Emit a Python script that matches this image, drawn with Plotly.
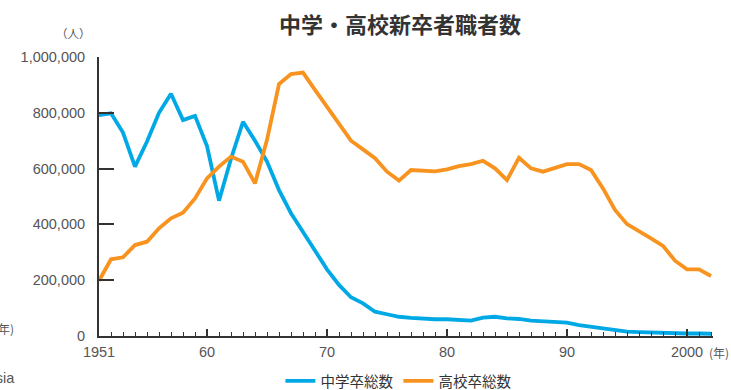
import plotly.graph_objects as go

years = list(range(1951, 2003))
junior_high = [792000, 798000, 729000, 607000, 697000, 800000, 868000, 774000, 789000, 681000,
               485000, 635000, 768000, 700000, 625000, 523000, 440000, 374000, 302000, 239000,
               183000, 139000, 117000, 87000, 78000, 69000, 65000, 62000, 60000, 60000,
               57000, 55000, 66000, 69000, 63000, 61000, 55000, 52000, 51000, 48000,
               39000, 33000, 27000, 21000, 16000, 14000, 12000, 11000, 10000, 9000,
               9000, 8000]
high_school = [198000, 275000, 282000, 326000, 338000, 386000, 422000, 442000, 493000, 565000,
               607000, 643000, 625000, 547000, 703000, 903000, 939000, 944000, 882000, 822000,
               760000, 700000, 669000, 637000, 589000, 557000, 595000, 593000, 590000, 597000,
               609000, 616000, 628000, 601000, 559000, 639000, 601000, 589000, 601000, 616000,
               616000, 595000, 529000, 452000, 401000, 377000, 350000, 323000, 270000, 239000,
               239000, 215000]

series_names = ["中学卒総数", "高校卒総数"]
x_tickvals = [1951, 1960, 1970, 1980, 1990, 2000]
x_ticktext = ["1951", "60", "70", "80", "90", "2000"]
y_tickvals = [0, 200000, 400000, 600000, 800000, 1000000]
y_ticktext = ["0", "200,000", "400,000", "600,000", "800,000", "1,000,000"]

W, H = 731, 390
ML, MR, MT, MB = 99, 18, 57, 54
plot_w = W - ML - MR
plot_h = H - MT - MB
x_end = 1951 + plot_w / 12.0

BLUE = "#00A9E6"
ORANGE = "#F7931E"
AX = "#333333"
TXT = "#555555"
FONT = "Liberation Sans, Noto Sans CJK JP, sans-serif"
JP = "Noto Sans CJK JP, sans-serif"

fig = go.Figure()
fig.add_trace(go.Scatter(x=years, y=junior_high, mode="lines", name=series_names[0],
                         line=dict(color=BLUE, width=3.8)))
fig.add_trace(go.Scatter(x=years, y=high_school, mode="lines", name=series_names[1],
                         line=dict(color=ORANGE, width=3.8)))

fig.update_layout(
    width=W, height=H,
    margin=dict(l=ML, r=MR, t=MT, b=MB, autoexpand=False),
    paper_bgcolor="white", plot_bgcolor="white",
    font=dict(family=FONT, size=14, color=TXT),
    showlegend=True,
    legend=dict(orientation="h", xref="container", yref="container",
                x=0.545, xanchor="center", y=1 - 381 / H, yanchor="middle",
                font=dict(family=JP, size=14.5, color="#333333"),
                itemwidth=30, traceorder="normal"),
    xaxis=dict(range=[1951, x_end], showgrid=False, zeroline=False, automargin=False,
               showline=True, linecolor=AX, linewidth=2,
               tickmode="array", tickvals=x_tickvals, ticktext=x_ticktext,
               ticks="inside", ticklen=7, tickwidth=1.5, tickcolor=AX,
               ticklabelstandoff=2,
               tickfont=dict(family=FONT, size=14.5, color=TXT),
               minor=dict(ticks="inside", dtick=1, tick0=1951, ticklen=4,
                          tickwidth=1.2, tickcolor=AX, showgrid=False)),
    yaxis=dict(range=[0, 1000000], showgrid=False, zeroline=False, automargin=False,
               showline=True, linecolor=AX, linewidth=2,
               tickmode="array", tickvals=y_tickvals, ticktext=y_ticktext,
               ticks="inside", ticklen=15, tickwidth=2, tickcolor=AX,
               ticklabelstandoff=9,
               tickfont=dict(family=FONT, size=14.5, color=TXT)),
)

annotations = [
    dict(text="<b>中学・高校新卒者職者数</b>", xref="paper", yref="paper",
         x=(400 - ML) / plot_w, y=1 + (MT - 23) / plot_h,
         xanchor="center", yanchor="middle", showarrow=False,
         font=dict(family=JP, size=22, color="#333333")),
    dict(text="（人）", xref="paper", yref="paper",
         x=(93 - ML) / plot_w, y=1 + (MT - 33) / plot_h,
         xanchor="right", yanchor="middle", showarrow=False,
         font=dict(family=JP, size=11.5, color=TXT)),
    dict(text="(年)", xref="paper", yref="paper",
         x=(707 - ML) / plot_w, y=-(352 - (H - MB)) / plot_h,
         xanchor="left", yanchor="middle", showarrow=False,
         font=dict(family=JP, size=12, color=TXT)),
    dict(text="(年)", xref="paper", yref="paper",
         x=(16 - ML) / plot_w, y=-(328 - (H - MB)) / plot_h,
         xanchor="right", yanchor="middle", showarrow=False,
         font=dict(family=JP, size=12, color=TXT)),
    dict(text="Asia", xref="paper", yref="paper",
         x=(17 - ML) / plot_w, y=-(378 - (H - MB)) / plot_h,
         xanchor="right", yanchor="middle", showarrow=False,
         font=dict(family=FONT, size=14.5, color=TXT)),
]
fig.update_layout(annotations=annotations)

fig.write_html("out.html")
